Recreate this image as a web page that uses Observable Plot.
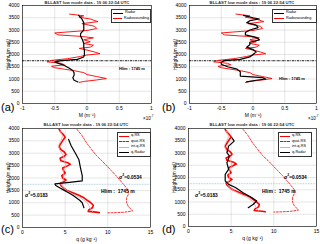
<!DOCTYPE html>
<html><head><meta charset="utf-8">
<script src="https://cdn.jsdelivr.net/npm/d3@7"></script>
<script src="https://cdn.jsdelivr.net/npm/@observablehq/plot@0.6"></script>
<style>
body{margin:0;background:#fff;font-family:"Liberation Sans",Arial,sans-serif;}
#wrap{position:relative;width:320px;height:244px;overflow:hidden;background:#fff;}
#wrap svg{position:absolute;}
.t{position:absolute;white-space:nowrap;color:#000;line-height:1;}
.title{font-size:4.3px;font-weight:bold;color:#333;transform:translateX(-50%);}
.pl{font-size:11px;}
.leg{position:absolute;border:0.5px solid #333;background:#fff;font-size:3.8px;line-height:1;padding:0.5px 1px;}
.leg div{height:5.5px;display:flex;align-items:center;}
.sw{display:inline-block;width:10px;margin-right:2px;}
.ann{font-size:4.8px;font-weight:bold;}
</style></head>
<body><div id="wrap"></div>
<script>
const hlim = 1745;
// Panel (a)/(b): radiosounding M profile (x 1e-7 m^-1)
const rsH = [3650,3580,3520,3450,3340,3260,3150,3060,2980,2880,2800,2740,2680,2600,2520,2450,2380,2300,2250,2180,2100,2030,1980,1920,1830,1760,1700,1640,1580,1520,1460,1400,1340,1260,1180,1100,1020,960,900,860];
const rsM = [-0.27,-0.05,-0.12,0.05,0.17,-0.08,0.12,0.15,0.0,-0.5,-0.45,-0.1,0.1,-0.05,0.05,-0.05,0.1,0.05,-0.12,0.0,0.12,0.2,0.0,-0.1,-0.3,-0.55,-0.62,-0.4,-0.35,-0.55,-0.5,-0.35,-0.2,-0.05,0.0,0.15,0.3,0.15,-0.05,-0.12];
// Panel (a): radar M profile
const radH_a = [3600,3450,3300,3150,3000,2850,2750,2600,2450,2300,2150,2000,1900,1800,1750,1700,1650,1550,1450,1350,1250,1150,1050,950,880];
const radM_a = [-0.13,-0.08,-0.05,-0.05,-0.05,-0.1,-0.1,-0.07,-0.05,-0.05,-0.04,-0.04,-0.05,-0.15,-0.4,-0.5,-0.45,-0.35,-0.28,-0.22,-0.2,-0.2,-0.22,-0.2,-0.14];
// Panel (b): radar M profile
const radH_b = [3600,3500,3450,3380,3300,3200,3100,3000,2900,2800,2700,2600,2500,2400,2300,2200,2100,2000,1900,1800,1750,1680,1600,1500,1400,1300,1200,1120,1060,1000,950,880];
const radM_b = [-0.15,0.0,0.1,-0.05,-0.1,0.05,0.08,-0.05,-0.12,-0.12,0.05,0.1,-0.05,-0.05,-0.1,0.0,0.05,0.0,-0.05,-0.2,-0.45,-0.5,-0.5,-0.4,-0.25,-0.2,-0.2,-0.2,0.15,0.2,0.05,-0.1];
// Panels (c)/(d): humidity profiles (g/kg)
const qH = [3960,3850,3750,3650,3560,3450,3350,3250,3150,3050,2950,2880,2800,2700,2620,2550,2480,2400,2300,2200,2100,2000,1920,1850,1780,1700,1600,1500,1400,1300,1200,1100,1000,900,800,720,650,620,600];
const qRS = [4.3,4.5,4.8,5.0,4.8,4.6,4.4,4.3,4.5,4.9,5.1,4.9,4.4,4.5,5.3,5.6,5.2,4.7,4.8,5.0,4.6,4.7,5.1,4.8,4.4,4.5,4.8,5.2,5.9,6.6,7.2,7.6,8.0,8.3,8.2,7.8,7.7,8.6,9.0];
const intH = [3900,3700,3500,3300,3100,2900,2700,2500,2300,2100,1900,1750,1600,1400,1200,1000,800,650];
const intQ = [4.4,4.7,4.5,4.2,4.4,4.8,4.9,5.1,4.8,4.8,4.8,4.5,4.8,5.6,6.8,7.6,7.9,8.2];
const satH = [3960,3700,3420,3150,2890,2700,2480,2300,2080,1880,1680,1500,1340,1200,1000,850,740,670,620,600,590];
const satQ = [6.4,7.0,7.5,8.1,8.7,9.3,9.9,10.4,11.0,11.5,12.0,12.4,12.4,12.2,12.2,12.4,12.7,12.9,12.0,11.0,10.0];
const radH_c = [3560,3300,3000,2750,2400,2100,1880,1820,1760,1700,1600,1500,1400,1300,1200,1100,1000,900,800];
const radQ_c = [5.4,5.7,6.2,6.6,6.8,7.0,7.0,5.5,3.8,3.9,4.4,4.9,5.4,5.9,6.3,6.7,7.0,7.1,7.2];
const radH_d = [3620,3485,3280,3010,2875,2600,2330,2130,1860,1720,1590,1380,1180,1045,910,770];
const radQ_d = [5.1,5.35,4.7,4.5,4.8,4.5,4.7,4.3,4.3,4.7,5.5,6.4,7.4,8.0,7.6,7.0];

const yTicks = [0,500,1000,1500,2000,2500,3000,3500,4000];
const mTicks = [-1,-0.5,0,0.5,1];
const qTicks = [0,5,10,15];
const title = "BLLAST low mode data - 19 06 22:54 UTC";

const zip = (H, V) => H.map((h,i)=>({h, v:V[i]}));
const wrap = document.getElementById("wrap");

function panel(o){
  const svg = Plot.plot({
    width:160, height:122,
    marginLeft:o.ml, marginRight:o.mr, marginTop:o.mt, marginBottom:o.mb,
    style:{fontSize:"5px", fontFamily:"Liberation Sans, Arial, sans-serif", background:"white", color:"#000"},
    x:{domain:o.xd, ticks:o.xt, tickFormat:d=>String(d), label:o.xl, labelAnchor:"center", labelArrow:"none", tickSize:0, tickPadding:3, labelOffset:13, grid:true},
    y:{domain:[0,4000], ticks:yTicks, tickFormat:d=>String(d), label:"Height (m asl)", labelAnchor:"center", labelArrow:"none", tickSize:0, tickPadding:3, labelOffset:16, grid:true},
    marks:[
      ...o.marks,
      Plot.frame({stroke:"#000", strokeWidth:0.6})
    ]
  });
  svg.style.left = o.left+"px"; svg.style.top = o.top+"px";
  wrap.appendChild(svg);
}
function txt(cls, html, left, top, extra){
  const d = document.createElement("div");
  d.className = "t "+cls; d.innerHTML = html;
  d.style.left = left+"px"; d.style.top = top+"px";
  if (extra) Object.assign(d.style, extra);
  wrap.appendChild(d); return d;
}
function legend(left, top, w, items){
  const d = document.createElement("div");
  d.className = "leg"; d.style.left = left+"px"; d.style.top = top+"px"; d.style.width = w+"px";
  d.innerHTML = items.map(it=>`<div><span class="sw" style="border-top:${it.w}px ${it.dash||"solid"} ${it.c}"></span>${it.t}</div>`).join("");
  wrap.appendChild(d);
}

// (a)
panel({left:0, top:0, ml:22, mr:9, mt:5, mb:19, xd:[-1,1], xt:mTicks, xl:"M (m\u207B\u00B9)",
  marks:[
    Plot.ruleY([hlim], {stroke:"#000", strokeWidth:0.9, strokeDasharray:"2.5,0.8,0.8,0.8"}),
    Plot.line(zip(rsH, rsM), {x:"v", y:"h", stroke:"#f00", strokeWidth:0.9}),
    Plot.line(zip(radH_a, radM_a), {x:"v", y:"h", stroke:"#000", strokeWidth:1.2})
  ]});
// (b)
panel({left:160, top:0, ml:29, mr:4, mt:5, mb:19, xd:[-1,1], xt:mTicks, xl:"M (m\u207B\u00B9)",
  marks:[
    Plot.ruleY([hlim], {stroke:"#000", strokeWidth:0.9, strokeDasharray:"2.5,0.8,0.8,0.8"}),
    Plot.line(zip(rsH, rsM), {x:"v", y:"h", stroke:"#f00", strokeWidth:0.9}),
    Plot.line(zip(radH_b, radM_b), {x:"v", y:"h", stroke:"#000", strokeWidth:1.2})
  ]});
// (c)
const qMarks = (radH, radQ) => [
  Plot.ruleY([hlim], {stroke:"#9cc3dc", strokeWidth:0.9, strokeDasharray:"0.8,0.8"}),
  Plot.line(zip(satH, satQ), {x:"v", y:"h", stroke:"#f00", strokeWidth:0.8, strokeDasharray:"2,1.5"}),
  Plot.line(zip(qH, qRS), {x:"v", y:"h", stroke:"#f00", strokeWidth:1.6}),
  Plot.line(zip(intH, intQ), {x:"v", y:"h", stroke:"#f4a0a0", strokeWidth:0.8}),
  Plot.line(zip(radH, radQ), {x:"v", y:"h", stroke:"#000", strokeWidth:1.2})
];
panel({left:0, top:122, ml:22, mr:10, mt:6, mb:17, xd:[0,15], xt:qTicks, xl:"q (g kg\u207B\u00B9)", marks:qMarks(radH_c, radQ_c)});
panel({left:160, top:122, ml:28, mr:4, mt:6, mb:18, xd:[0,15], xt:qTicks, xl:"q (g kg\u207B\u00B9)", marks:qMarks(radH_d, radQ_d)});

// titles
txt("title", title, 87, 0.5);
txt("title", title.replace(" - "," : "), 252, 0.5);
txt("title", title, 86, 122.5);
txt("title", title.replace(" - "," : "), 252, 122.5);
// exponent labels
txt("", "\u00D710<sup style='font-size:3px'>-7</sup>", 143, 114.5, {fontSize:"4.5px"});
txt("", "\u00D710<sup style='font-size:3px'>-7</sup>", 308, 114.5, {fontSize:"4.5px"});
// panel labels
txt("pl", "(a)", 1, 102);
txt("pl", "(b)", 162, 102);
txt("pl", "(c)", 1, 224);
txt("pl", "(d)", 162, 224);
// annotations
txt("ann", "Hlim : 1745 m", 119, 66.5, {fontSize:"4px"});
txt("ann", "Hlim : 1745 m", 279, 76.5, {fontSize:"4px"});
txt("ann", "Hlim :&nbsp; 1745 m", 101, 189, {fontSize:"5px"});
txt("ann", "Hlim :&nbsp; 1745 m", 262, 189, {fontSize:"5px"});
txt("ann", "\u03C3<sup style='font-size:3.5px'>2</sup>=5.0183", 25, 192);
txt("ann", "\u03C3<sup style='font-size:3.5px'>2</sup>=0.0534", 119, 174);
txt("ann", "\u03C3<sup style='font-size:3.5px'>2</sup>=5.0183", 195, 192);
txt("ann", "\u03C3<sup style='font-size:3.5px'>2</sup>=0.0534", 284, 174);
// legends
legend(111, 9, 36, [{t:"Radar", c:"#000", w:1}, {t:"Radiosounding", c:"#f00", w:1}]);
legend(272, 9, 41, [{t:"Radar", c:"#000", w:1}, {t:"Radiosounding", c:"#f00", w:1}]);
const qLeg = [{t:"q-RS", c:"#f00", w:1.5}, {t:"qsat-RS", c:"#f00", w:0.8, dash:"dashed"}, {t:"int-q-RS", c:"#f4a0a0", w:0.8}, {t:"q-Radar", c:"#000", w:1.2}];
legend(117, 132, 30, qLeg);
legend(278, 132, 30, qLeg);
</script></body></html>
